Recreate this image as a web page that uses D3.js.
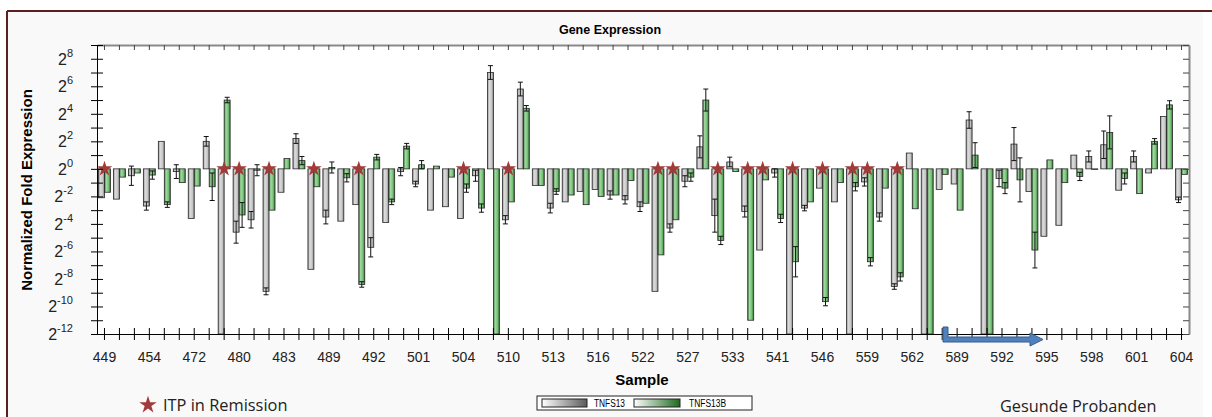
<!DOCTYPE html>
<html>
<head>
<meta charset="utf-8">
<script src="https://cdn.jsdelivr.net/npm/d3@7"></script>
<style>
  body { margin: 0; background: #fff; }
  svg { display: block; font-family: "Liberation Sans", Arial, sans-serif; }
</style>
</head>
<body>
<script>
// log2 fold expression per sample (-12 = off scale)
const tnfs13 = [-2.1, -2.2, -0.5, -2.7, 2.0, -0.2, -3.6, 2.0, -12, -4.6,
                -3.7, -8.9, -1.7, 2.2, -7.3, -3.5, -3.8, -2.6, -5.7, -3.9,
                -0.2, -1.1, -3.0, -2.75, -3.6, -0.5, 7.0, -3.7, 5.8, -1.2,
                -2.85, -2.4, -1.65, -1.5, -1.9, -2.25, -2.75, -8.9, -4.3, -0.9,
                1.6, -3.4, 0.5, -3.1, -5.9, -0.3, -12, -2.85, -1.4, -2.4,
                -12, -0.95, -3.5, -8.55, 1.15, -12, -1.5, -1.1, 3.55, -12,
                -0.7, 1.8, -1.65, -4.9, -4.1, 1.0, 0.9, 1.75, -1.55, 0.9,
                -0.3, 3.8, -2.25];

const tnfs13b = [-1.7, -0.6, -0.3, -0.45, -2.6, -1.0, -1.25, -1.3, 5.0, -3.35,
                 -0.1, -3.0, 0.75, 0.6, -1.3, 0.1, -0.65, -8.4, 0.85, -2.4,
                 1.65, 0.3, 0.2, -0.6, -1.4, -2.85, -12, -2.4, 4.4, -1.2,
                 -1.65, -1.9, -2.6, -2.0, -1.9, -0.85, -2.5, -6.25, -3.7, -0.6,
                 5.0, -5.2, -0.2, -11.0, -0.8, -3.6, -6.75, -2.4, -9.65, -1.0,
                 -1.3, -6.75, -1.4, -7.85, -2.9, -12, -0.4, -3.0, 1.0, -12,
                 -1.4, -0.8, -5.9, 0.65, -1.0, -0.55, -0.05, 2.65, -0.7, -1.8,
                 2.0, 4.65, -0.4];

// error bar half widths (log2 units), 0 = none drawn
const tnfs13Err = [0, 0, 0.7, 0.3, 0, 0.5, 0, 0.35, 0, 0.8,
                   0.6, 0.25, 0, 0.35, 0, 0.5, 0, 0, 0.7, 0,
                   0.3, 0.2, 0, 0, 0, 0.4, 0.5, 0.3, 0.5, 0,
                   0.35, 0, 0, 0, 0.3, 0.3, 0.35, 0, 0.3, 0.4,
                   0.8, 1.2, 0.35, 0.4, 0, 0.3, 0, 0.2, 0, 0,
                   0, 0.3, 0.3, 0.2, 0, 0, 0, 0, 0.6, 0,
                   0.6, 1.2, 0, 0, 0, 0, 0.4, 1.0, 0, 0.4,
                   0, 0, 0.2];

const tnfs13bErr = [0, 0, 0, 0.3, 0.2, 0, 0, 1.0, 0.2, 0.9,
                    0.4, 0, 0, 0.3, 0, 0.4, 0.3, 0.2, 0.2, 0.2,
                    0.2, 0.3, 0, 0, 0.3, 0.3, 0, 0, 0.2, 0,
                    0.2, 0, 0, 0, 0, 0, 0, 0, 0, 0.3,
                    0.8, 0.3, 0, 0, 0, 0.3, 1.1, 0, 0.3, 0,
                    0.3, 0.3, 0, 0.3, 0, 0, 0, 0, 0.9, 0,
                    0.4, 1.6, 1.3, 0, 0, 0.3, 0, 1.2, 0.4, 0,
                    0.2, 0.3, 0];

// only every third sample name is printed on the axis
const tickLabels = ['449', '454', '472', '480', '483', '489', '492', '501', '504',
                    '510', '513', '516', '522', '527', '533', '541', '546', '559',
                    '562', '589', '592', '595', '598', '601', '604'];

// samples marked with a star (ITP in remission)
const remission = [0, 8, 9, 11, 14, 17, 24, 27, 37, 38, 41, 43, 44, 46, 48, 50, 51, 53];

const yExponents = [-12, -10, -8, -6, -4, -2, 0, 2, 4, 6, 8];

const WIDTH = 1212;
const HEIGHT = 417;
const PLOT = {left: 97, right: 1189, top: 45, bottom: 334};

const SVG = d3.select('body')
              .append('svg')
              .attr('width', WIDTH)
              .attr('height', HEIGHT);

const defs = SVG.append('defs');

function gradient(id, stops) {
  const g = defs.append('linearGradient')
                .attr('id', id)
                .attr('x1', 0).attr('x2', 1).attr('y1', 0).attr('y2', 0);
  stops.forEach(s => g.append('stop').attr('offset', s[0]).attr('stop-color', s[1]));
}

gradient('grayBar', [[0, '#8a8a8a'], [0.3, '#dcdcdc'], [0.7, '#c8c8c8'], [1, '#7a7a7a']]);
gradient('greenBar', [[0, '#3b7a3b'], [0.3, '#a4d9a4'], [0.7, '#72c172'], [1, '#336633']]);
gradient('grayLegend', [[0, '#ffffff'], [1, '#5a5a5a']]);
gradient('greenLegend', [[0, '#ffffff'], [1, '#1e6a1e']]);

// frame round the picture
SVG.append('rect')
   .attr('x', 8).attr('y', 12)
   .attr('width', 1195).attr('height', HEIGHT - 12)
   .attr('fill', '#f9f9f9');

SVG.append('line')
   .attr('x1', 7).attr('x2', WIDTH).attr('y1', 11).attr('y2', 11)
   .attr('stroke', '#5b1f1f').attr('stroke-width', 2);

SVG.append('line')
   .attr('x1', 7).attr('x2', 7).attr('y1', 11).attr('y2', HEIGHT)
   .attr('stroke', '#5b1f1f').attr('stroke-width', 2);

SVG.append('rect')
   .attr('x', PLOT.left).attr('y', PLOT.top)
   .attr('width', PLOT.right - PLOT.left).attr('height', PLOT.bottom - PLOT.top)
   .attr('fill', '#ffffff');

// scales
const samples = d3.range(tnfs13.length);

const xScale = d3.scaleBand()
                 .domain(samples)
                 .range([PLOT.left, PLOT.right]);

const xSub = d3.scaleBand()
               .domain(['tnfs13', 'tnfs13b'])
               .range([0, xScale.bandwidth()])
               .paddingOuter(0.25);

const yScale = d3.scaleLinear()
                 .domain([-12, 9])
                 .range([PLOT.bottom, PLOT.top]);

// bars
const series = [
  {key: 'tnfs13', values: tnfs13, err: tnfs13Err, fill: 'url(#grayBar)'},
  {key: 'tnfs13b', values: tnfs13b, err: tnfs13bErr, fill: 'url(#greenBar)'}
];

series.forEach(s => {
  SVG.append('g')
     .selectAll('rect')
     .data(s.values)
     .enter()
     .append('rect')
     .attr('x', (d, i) => xScale(i) + xSub(s.key))
     .attr('y', d => yScale(Math.max(0, d)))
     .attr('width', xSub.bandwidth())
     .attr('height', d => Math.abs(yScale(d) - yScale(0)))
     .attr('fill', s.fill)
     .attr('stroke', '#2a2a2a')
     .attr('stroke-width', 0.8);
});

// error bars
series.forEach(s => {
  const pts = s.values.map((v, i) => ({i: i, v: v, e: s.err[i]})).filter(d => d.e > 0);
  const g = SVG.append('g').attr('stroke', '#111').attr('stroke-width', 1);
  const cx = d => xScale(d.i) + xSub(s.key) + xSub.bandwidth() / 2;

  g.selectAll('.stem')
   .data(pts)
   .enter()
   .append('line')
   .attr('x1', cx).attr('x2', cx)
   .attr('y1', d => yScale(d.v + d.e))
   .attr('y2', d => yScale(d.v - d.e));

  g.selectAll('.capTop')
   .data(pts)
   .enter()
   .append('line')
   .attr('x1', d => cx(d) - 2.5).attr('x2', d => cx(d) + 2.5)
   .attr('y1', d => yScale(d.v + d.e)).attr('y2', d => yScale(d.v + d.e));

  g.selectAll('.capBottom')
   .data(pts)
   .enter()
   .append('line')
   .attr('x1', d => cx(d) - 2.5).attr('x2', d => cx(d) + 2.5)
   .attr('y1', d => yScale(d.v - d.e)).attr('y2', d => yScale(d.v - d.e));
});

// stars on the zero line
const star = d3.symbol().type(d3.symbolStar).size(75);

SVG.append('g')
   .selectAll('path')
   .data(remission)
   .enter()
   .append('path')
   .attr('d', star)
   .attr('transform', d => 'translate(' + (xScale(d) + xScale.bandwidth() / 2) + ',' + yScale(0) + ')')
   .attr('fill', '#a33a3a');

// axes
const xAxis = d3.axisBottom(xScale)
                .tickSize(6)
                .tickSizeOuter(0)
                .tickFormat(i => i % 3 === 0 ? tickLabels[i / 3] : '');

const gx = SVG.append('g')
              .attr('transform', 'translate(0,' + PLOT.bottom + ')')
              .call(xAxis);
gx.selectAll('.tick line').attr('y1', -6);
gx.selectAll('.tick text')
  .attr('dy', 0).attr('y', 28)
  .style('font-size', '14px')
  .style('font-family', '"Liberation Sans", Arial, sans-serif')
  .attr('fill', '#222');

const xTop = d3.axisTop(xScale).tickSize(-5).tickSizeOuter(0).tickFormat('');
const gt = SVG.append('g')
              .attr('transform', 'translate(0,' + PLOT.top + ')')
              .call(xTop);
gt.select('.domain').attr('stroke', '#8a8a8a').attr('stroke-width', 2);
gt.selectAll('.tick line').attr('stroke', '#444');

const yAxis = d3.axisLeft(yScale)
                .tickValues(d3.range(-12, 10))
                .tickSize(6)
                .tickSizeOuter(0)
                .tickFormat('');
const gy = SVG.append('g')
              .attr('transform', 'translate(' + PLOT.left + ',0)')
              .call(yAxis);
gy.selectAll('.tick line').attr('x2', 6).attr('x1', -6);

const yRight = d3.axisRight(yScale)
                 .tickValues(d3.range(-12, 10))
                 .tickSize(-6)
                 .tickSizeOuter(0)
                 .tickFormat('');
const gr = SVG.append('g')
              .attr('transform', 'translate(' + PLOT.right + ',0)')
              .call(yRight);
gr.select('.domain').attr('stroke', '#8a8a8a').attr('stroke-width', 2);
gr.selectAll('.tick line').attr('stroke', '#444');

// 2^n labels
const yl = SVG.append('g')
              .selectAll('text')
              .data(yExponents)
              .enter()
              .append('text')
              .attr('x', 73)
              .attr('y', d => yScale(d) + 6)
              .attr('text-anchor', 'end')
              .attr('fill', '#222')
              .style('font-size', '16px');
yl.append('tspan').text('2');
yl.append('tspan')
  .attr('dy', -8)
  .style('font-size', '11px')
  .text(d => d);

// titles
SVG.append('text')
   .attr('x', 610).attr('y', 34)
   .attr('text-anchor', 'middle')
   .style('font-size', '12.5px').style('font-weight', 'bold')
   .text('Gene Expression');

SVG.append('text')
   .attr('transform', 'translate(32,190) rotate(-90)')
   .attr('text-anchor', 'middle')
   .style('font-size', '15px').style('font-weight', 'bold')
   .text('Normalized Fold Expression');

SVG.append('text')
   .attr('x', 642).attr('y', 385)
   .attr('text-anchor', 'middle')
   .style('font-size', '15px').style('font-weight', 'bold')
   .text('Sample');

// legend box
const legend = SVG.append('g');
legend.append('rect')
      .attr('x', 537).attr('y', 396).attr('width', 215).attr('height', 14)
      .attr('fill', '#fff').attr('stroke', '#222');
legend.append('rect')
      .attr('x', 542).attr('y', 399).attr('width', 45).attr('height', 8)
      .attr('fill', 'url(#grayLegend)').attr('stroke', '#222');
legend.append('text')
      .attr('x', 594).attr('y', 407)
      .attr('textLength', 31).attr('lengthAdjust', 'spacingAndGlyphs')
      .style('font-size', '10px')
      .text('TNFS13');
legend.append('rect')
      .attr('x', 634).attr('y', 399).attr('width', 46).attr('height', 8)
      .attr('fill', 'url(#greenLegend)').attr('stroke', '#222');
legend.append('text')
      .attr('x', 689).attr('y', 407)
      .attr('textLength', 37).attr('lengthAdjust', 'spacingAndGlyphs')
      .style('font-size', '10px')
      .text('TNFS13B');

// notes under the chart
SVG.append('path')
   .attr('d', d3.symbol().type(d3.symbolStar).size(95))
   .attr('transform', 'translate(148,405)')
   .attr('fill', '#a33a3a');

SVG.append('text')
   .attr('x', 163).attr('y', 411)
   .style('font-family', '"Open Sans", "Noto Sans", sans-serif')
   .style('font-size', '16.4px')
   .attr('fill', '#222')
   .text('ITP in Remission');

SVG.append('text')
   .attr('x', 1000).attr('y', 412)
   .style('font-family', '"Open Sans", "Noto Sans", sans-serif')
   .style('font-size', '16.3px')
   .attr('fill', '#222')
   .text('Gesunde Probanden');

// blue arrow marking the healthy controls
SVG.append('path')
   .attr('d', 'M943,327 L948,327 L948,337 L1030,337 L1030,333 L1043,339.5 L1030,346 L1030,342 L943,342 Z')
   .attr('fill', '#4f81bd')
   .attr('stroke', '#385d8a')
   .attr('stroke-width', 1);
</script>
</body>
</html>
